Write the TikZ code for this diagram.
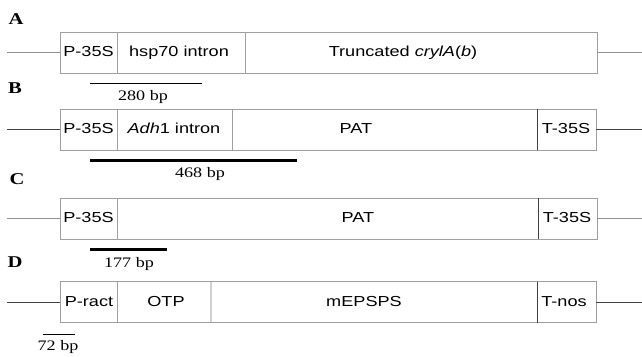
\documentclass[tikz,border=0pt]{standalone}
\usepackage{fontspec}
\setmainfont[FakeStretch=1.25]{Liberation Serif}
\newfontfamily\arialx[FakeStretch=1.25]{Liberation Sans}
\begin{document}
\begin{tikzpicture}[x=1pt,y=-1pt,
  seg/.style={draw=boxgray, line width=1pt, inner sep=0pt, outer sep=0pt, minimum height=41pt, anchor=north west},
  lbl/.style={font=\arialx\fontsize{14.5}{16}\selectfont, inner sep=0pt, anchor=base},
  bp/.style={font=\fontsize{14.5}{16}\selectfont, inner sep=0pt, anchor=base},
  letter/.style={font=\fontsize{16.5}{18}\selectfont\bfseries, inner sep=0pt, anchor=base},
  lead/.style={draw=linegray, line width=0.9pt},
  leaddark/.style={draw=darkgray2, line width=0.9pt},
  divdark/.style={draw=darkgray2, line width=1pt},
  thinbar/.style={draw=black, line width=1.3pt},
  thickbar/.style={draw=black, line width=3pt}]
\definecolor{boxgray}{HTML}{A0A0A0}
\definecolor{linegray}{HTML}{909090}
\definecolor{darkgray2}{HTML}{404040}
\definecolor{lightdiv}{HTML}{D0D0D0}
\useasboundingbox (0,0) rectangle (642,356);

% ---------- A ----------
\node[letter] (LA) at (16,24.3) {A};
\node[seg, minimum width=57pt] (a1) at (60,32.3) {};
\node[seg, minimum width=128pt] (a2) at (117,32.3) {};
\node[seg, minimum width=352pt] (a3) at (245,32.3) {};
\node[lbl] (ta1) at (88.5,56.7) {P-35S};
\node[lbl] (ta2) at (179,56.7) {hsp70 intron};
\node[lbl] (ta3) at (403,56.7) {Truncated \textit{crylA}(\textit{b})};
\path (a1.west) ++(-53,0) coordinate (aL);
\path (a3.east) ++(45,0) coordinate (aR);
\draw[lead] (aL) -- (a1.west);
\draw[lead] (a3.east) -- (aR);
\coordinate (sa1) at (90,83.3);
\coordinate (sa2) at (202,83.3);
\draw[thinbar] (sa1) -- (sa2);
\node[bp] (bpa) at (143,100) {280 bp};

% ---------- B ----------
\node[letter] (LB) at (15,93.3) {B};
\node[seg, minimum width=57pt] (b1) at (60,109.3) {};
\node[seg, minimum width=115pt] (b2) at (117,109.3) {};
\node[seg, minimum width=305pt] (b3) at (232,109.3) {};
\node[seg, minimum width=59pt] (b4) at (537,109.3) {};
\draw[divdark] (b3.north east) -- (b3.south east);
\node[lbl] (tb1) at (88.5,133.5) {P-35S};
\node[lbl] (tb2) at (174,133.5) {\textit{Adh}1 intron};
\node[lbl] (tb3) at (356,133.5) {PAT};
\node[lbl] (tb4) at (566,133.5) {T-35S};
\path (b1.west) ++(-53,0) coordinate (bL);
\path (b4.east) ++(46,0) coordinate (bR);
\draw[leaddark] (bL) -- (b1.west);
\draw[leaddark] (b4.east) -- (bR);
\coordinate (sb1) at (90,160);
\coordinate (sb2) at (297,160);
\draw[thickbar] (sb1) -- (sb2);
\node[bp] (bpb) at (200,177.3) {468 bp};

% ---------- C ----------
\node[letter] (LC) at (17,184) {C};
\node[seg, minimum width=57pt] (c1) at (60,198.3) {};
\node[seg, minimum width=421pt] (c2) at (117,198.3) {};
\node[seg, minimum width=59pt] (c3) at (538,198.3) {};
\draw[divdark] (c2.north east) -- (c2.south east);
\node[lbl] (tc1) at (88.5,222.7) {P-35S};
\node[lbl] (tc2) at (358,222.7) {PAT};
\node[lbl] (tc3) at (567,222.7) {T-35S};
\path (c1.west) ++(-53,0) coordinate (cL);
\path (c3.east) ++(45,0) coordinate (cR);
\draw[lead] (cL) -- (c1.west);
\draw[lead] (c3.east) -- (cR);
\coordinate (sc1) at (90,249.3);
\coordinate (sc2) at (167,249.3);
\draw[thickbar] (sc1) -- (sc2);
\node[bp] (bpc) at (129,267.3) {177 bp};

% ---------- D ----------
\node[letter] (LD) at (15,267) {D};
\node[seg, minimum width=57pt] (d1) at (60,281.7) {};
\node[seg, minimum width=94pt] (d2) at (117,281.7) {};
\node[seg, minimum width=326pt] (d3) at (211,281.7) {};
\node[seg, minimum width=59pt] (d4) at (537,281.7) {};
\draw[draw=lightdiv, line width=1.5pt] (d2.north east) -- (d2.south east);
\draw[draw=boxgray, line width=1pt] (d1.north west) -- (d4.north east);
\draw[draw=boxgray, line width=1pt] (d1.south west) -- (d4.south east);
\draw[divdark] (d3.north east) -- (d3.south east);
\node[lbl] (td1) at (89,306.5) {P-ract};
\node[lbl] (td2) at (166,306.5) {OTP};
\node[lbl] (td3) at (364,306.5) {mEPSPS};
\node[lbl] (td4) at (564,306.5) {T-nos};
\path (d1.west) ++(-53,0) coordinate (dL);
\path (d4.east) ++(46,0) coordinate (dR);
\draw[leaddark] (dL) -- (d1.west);
\draw[leaddark] (d4.east) -- (dR);
\coordinate (sd1) at (43,334.3);
\coordinate (sd2) at (75,334.3);
\draw[draw=black, line width=1pt] (sd1) -- (sd2);
\node[bp] (bpd) at (58,350) {72 bp};
\end{tikzpicture}
\end{document}
